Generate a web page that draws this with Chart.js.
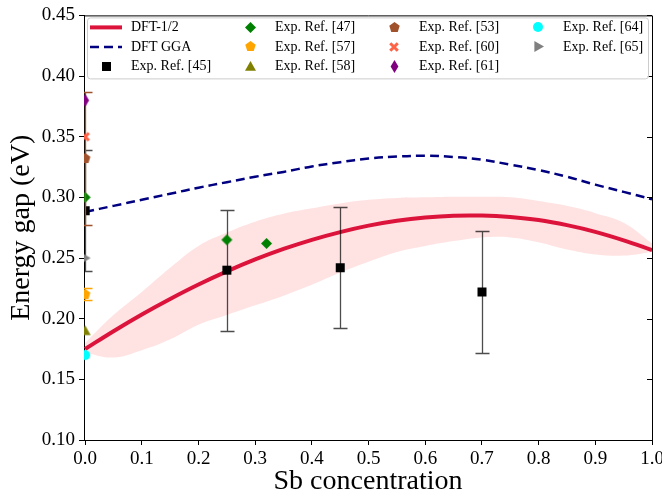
<!DOCTYPE html>
<html>
<head>
<meta charset="utf-8">
<script src="https://cdn.jsdelivr.net/npm/chart.js@4"></script>
<style>
  html, body { margin: 0; padding: 0; background: #fff; }
</style>
</head>
<body>
<canvas id="gapChart" width="662" height="498"></canvas>
<script>
// Sb concentration grid used by the computed curves
const sbGrid = [0, 0.05, 0.1, 0.15, 0.2, 0.25, 0.3, 0.35, 0.4, 0.45, 0.5,
                0.55, 0.6, 0.65, 0.7, 0.75, 0.8, 0.85, 0.9, 0.95, 1.0];
const dftHalf = [0.175, 0.1897, 0.2035, 0.2163, 0.2282, 0.2390, 0.2488, 0.2575, 0.2650, 0.2714, 0.2767,
                 0.2807, 0.2834, 0.2849, 0.2850, 0.2838, 0.2813, 0.2771, 0.2716, 0.2646, 0.2565];
const dftGGA = [0.2880, 0.2930, 0.2980, 0.3030, 0.3080, 0.3125, 0.3170, 0.3210, 0.3255, 0.3290, 0.3320,
                0.3337, 0.3343, 0.3333, 0.3310, 0.3270, 0.3225, 0.3170, 0.3105, 0.3045, 0.2985];
const bandLow = [0.172, 0.168, 0.174, 0.183, 0.195, 0.203, 0.211, 0.219, 0.228, 0.238, 0.247,
                 0.255, 0.260, 0.264, 0.267, 0.267, 0.263, 0.257, 0.253, 0.252, 0.255];
const bandHigh = [0.180, 0.203, 0.222, 0.242, 0.260, 0.271, 0.280, 0.2865, 0.291, 0.295, 0.298,
                  0.2995, 0.300, 0.3005, 0.3005, 0.300, 0.297, 0.293, 0.287, 0.279, 0.262];

// experimental references
const ref45X = [0, 0.25, 0.45, 0.7];
const ref45Y = [0.289, 0.240, 0.242, 0.222];
const ref45Err = [0.05, 0.05, 0.05, 0.05];
const ref47X = [0, 0.25, 0.32];
const ref47Y = [0.300, 0.265, 0.262];
const ref57Y = [0.220];
const ref57Err = [0.005];
const ref58Y = [0.190];
const ref53Y = [0.332];
const ref53Err = [0.055];
const ref60Y = [0.350];
const ref61Y = [0.380];
const ref64Y = [0.170];
const ref65Y = [0.250];

const serif = "'Liberation Serif', 'Times New Roman', serif";
Chart.defaults.font.family = serif;
Chart.defaults.color = '#000';

function pts(xs, ys) {
    return ys.map((y, i) => ({ x: xs[i], y: y }));
}
function atZero(ys) {
    return ys.map(y => ({ x: 0, y: y }));
}

// little canvases used as point styles
function makeMarker(shape, color, size) {
    const s = Math.ceil(size) + 2;
    const c = document.createElement('canvas');
    c.width = s; c.height = s;
    const g = c.getContext('2d');
    const r = size / 2;
    g.translate(s / 2, s / 2);
    g.fillStyle = color;
    g.strokeStyle = color;
    g.beginPath();
    if (shape === 'square') {
        g.rect(-r, -r, size, size);
    } else if (shape === 'diamond') {
        g.moveTo(0, -r); g.lineTo(r, 0); g.lineTo(0, r); g.lineTo(-r, 0);
    } else if (shape === 'thinDiamond') {
        g.moveTo(0, -r); g.lineTo(r * 0.6, 0); g.lineTo(0, r); g.lineTo(-r * 0.6, 0);
    } else if (shape === 'pentagon') {
        for (let i = 0; i < 5; i++) {
            const a = -Math.PI / 2 + i * 2 * Math.PI / 5;
            g.lineTo(r * Math.cos(a), r * Math.sin(a));
        }
    } else if (shape === 'triUp') {
        g.moveTo(0, -r); g.lineTo(r, r * 0.75); g.lineTo(-r, r * 0.75);
    } else if (shape === 'triRight') {
        g.moveTo(r, 0); g.lineTo(-r * 0.75, r); g.lineTo(-r * 0.75, -r);
    } else if (shape === 'circle') {
        g.arc(0, 0, r, 0, Math.PI * 2);
    } else if (shape === 'x') {
        g.lineWidth = size * 0.3;
        const d = r * 0.75;
        g.moveTo(-d, -d); g.lineTo(d, d);
        g.moveTo(d, -d); g.lineTo(-d, d);
        g.stroke();
        return c;
    }
    g.closePath();
    g.fill();
    return c;
}

const mk = {
    r45: makeMarker('square', '#000000', 9),
    r47: makeMarker('diamond', '#008000', 11),
    r57: makeMarker('pentagon', '#ffa500', 11),
    r58: makeMarker('triUp', '#808000', 11),
    r53: makeMarker('pentagon', '#a0522d', 11),
    r60: makeMarker('x', '#ff6347', 10),
    r61: makeMarker('thinDiamond', '#800080', 13),
    r64: makeMarker('circle', '#00ffff', 10),
    r65: makeMarker('triRight', '#808080', 11)
};

function expSet(label, data, marker, order, extra) {
    return Object.assign({
        label: label,
        data: data,
        showLine: false,
        pointStyle: marker,
        pointRadius: 5,
        clip: 0,
        order: order,
        inLegend: true
    }, extra || {});
}

const datasets = [
    {
        label: 'DFT-1/2',
        data: pts(sbGrid, dftHalf),
        showLine: true,
        borderColor: '#dc143c',
        borderWidth: 4,
        pointRadius: 0,
        tension: 0.4,
        clip: 0,
        order: 20,
        inLegend: true
    },
    {
        label: 'DFT GGA',
        data: pts(sbGrid, dftGGA),
        showLine: true,
        borderColor: '#000080',
        borderWidth: 2.5,
        borderDash: [9, 5],
        pointRadius: 0,
        tension: 0.4,
        clip: 0,
        order: 19,
        inLegend: true
    },
    expSet('Exp. Ref. [45]', pts(ref45X, ref45Y), mk.r45, 18, { errors: ref45Err, errorColor: 'rgba(0,0,0,0.7)' }),
    expSet('Exp. Ref. [47]', pts(ref47X, ref47Y), mk.r47, 17),
    expSet('Exp. Ref. [57]', atZero(ref57Y), mk.r57, 16, { errors: ref57Err, errorColor: '#ffa500' }),
    expSet('Exp. Ref. [58]', atZero(ref58Y), mk.r58, 15),
    expSet('Exp. Ref. [53]', atZero(ref53Y), mk.r53, 14, { errors: ref53Err, errorColor: '#a0522d' }),
    expSet('Exp. Ref. [60]', atZero(ref60Y), mk.r60, 13),
    expSet('Exp. Ref. [61]', atZero(ref61Y), mk.r61, 12),
    expSet('Exp. Ref. [64]', atZero(ref64Y), mk.r64, 11),
    expSet('Exp. Ref. [65]', atZero(ref65Y), mk.r65, 10),
    // shaded band around DFT-1/2
    {
        label: 'band low',
        data: pts(sbGrid, bandLow),
        showLine: true,
        borderWidth: 0,
        pointRadius: 0,
        tension: 0.4,
        clip: 0,
        order: 30
    },
    {
        label: 'band high',
        data: pts(sbGrid, bandHigh),
        showLine: true,
        borderWidth: 0,
        pointRadius: 0,
        tension: 0.4,
        fill: '-1',
        backgroundColor: 'rgba(255, 160, 160, 0.3)',
        clip: 0,
        order: 30
    }
];

// vertical error bars, drawn just under their own markers
const errorBars = {
    id: 'errorBars',
    beforeDatasetDraw(chart, args) {
        const ds = chart.data.datasets[args.index];
        if (!ds.errors) return;
        const { ctx, chartArea: a, scales: { x, y } } = chart;
        ctx.save();
        ctx.beginPath();
        ctx.rect(a.left, a.top, a.right - a.left, a.bottom - a.top);
        ctx.clip();
        ctx.strokeStyle = ds.errorColor;
        ctx.lineWidth = 1.3;
        ds.data.forEach((p, i) => {
            const e = ds.errors[i];
            const px = Math.round(x.getPixelForValue(p.x)) + 0.5;
            const top = Math.round(y.getPixelForValue(p.y + e)) + 0.5;
            const bot = Math.round(y.getPixelForValue(p.y - e)) + 0.5;
            ctx.beginPath();
            ctx.moveTo(px, top); ctx.lineTo(px, bot);
            ctx.moveTo(px - 7, top); ctx.lineTo(px + 7, top);
            ctx.moveTo(px - 7, bot); ctx.lineTo(px + 7, bot);
            ctx.stroke();
        });
        ctx.restore();
    }
};

// top/right spines and the inward right ticks
const frame = {
    id: 'frame',
    afterDatasetsDraw(chart) {
        const { ctx, chartArea: a, scales: { y } } = chart;
        ctx.save();
        ctx.strokeStyle = '#000';
        ctx.lineWidth = 1;
        ctx.beginPath();
        ctx.moveTo(a.left, a.top + 0.5); ctx.lineTo(a.right + 0.5, a.top + 0.5);
        ctx.lineTo(a.right + 0.5, a.bottom);
        y.ticks.forEach(t => {
            const py = Math.round(y.getPixelForValue(t.value)) + 0.5;
            ctx.moveTo(a.right, py); ctx.lineTo(a.right - 5, py);
        });
        ctx.stroke();
        ctx.restore();
    }
};

// matplotlib-like legend: 4 columns, 3 rows, column-major
const gridLegend = {
    id: 'gridLegend',
    afterDraw(chart) {
        const { ctx, chartArea: a } = chart;
        const items = chart.data.datasets.filter(d => d.inLegend);
        const bx = a.left + 3, by = a.top + 2, bw = a.right - a.left - 7, bh = 61;
        ctx.save();
        ctx.fillStyle = 'rgba(255,255,255,0.85)';
        ctx.strokeStyle = '#cccccc';
        ctx.lineWidth = 1;
        ctx.beginPath();
        ctx.roundRect(bx + 0.5, by + 0.5, bw, bh, 3);
        ctx.fill();
        ctx.stroke();
        ctx.font = '14px ' + serif;
        ctx.textBaseline = 'middle';
        ctx.fillStyle = '#000';
        items.forEach((d, i) => {
            const col = Math.floor(i / 3), row = i % 3;
            const mx = a.left + 22 + col * 144;
            const my = by + 10 + row * 19.5;
            if (d.showLine) {
                ctx.save();
                ctx.strokeStyle = d.borderColor;
                ctx.lineWidth = d.borderWidth;
                ctx.setLineDash(d.borderDash || []);
                ctx.beginPath();
                ctx.moveTo(mx - 16, my); ctx.lineTo(mx + 16, my);
                ctx.stroke();
                ctx.restore();
            } else {
                const m = d.pointStyle;
                ctx.drawImage(m, Math.round(mx - m.width / 2), Math.round(my - m.height / 2));
            }
            ctx.fillText(d.label, mx + 25, my);
        });
        ctx.restore();
    }
};

new Chart(document.getElementById('gapChart').getContext('2d'), {
    type: 'scatter',
    data: { datasets: datasets },
    options: {
        responsive: false,
        animation: false,
        events: [],
        layout: { padding: { top: 13, right: 10, left: 0, bottom: 0 } },
        plugins: {
            legend: { display: false },
            tooltip: { enabled: false }
        },
        scales: {
            x: {
                type: 'linear',
                min: -0.002,
                max: 1.0,
                ticks: {
                    stepSize: 0.1,
                    includeBounds: false,
                    padding: 3,
                    font: { size: 19 },
                    callback: v => v.toFixed(1)
                },
                grid: { drawOnChartArea: false, tickLength: 5, tickColor: '#000' },
                border: { color: '#000', width: 1 },
                title: {
                    display: true,
                    text: 'Sb concentration',
                    font: { size: 28 },
                    padding: { top: 0, bottom: 0 }
                },
                afterFit(s) {
                    s.height = 58;
                    s.paddingRight = 0;
                    s.paddingLeft = 0;
                }
            },
            y: {
                type: 'linear',
                min: 0.10,
                max: 0.45,
                ticks: {
                    stepSize: 0.05,
                    padding: 4,
                    font: { size: 19 },
                    callback: v => v.toFixed(2)
                },
                grid: { drawOnChartArea: false, tickLength: 5, tickColor: '#000' },
                border: { color: '#000', width: 1 },
                title: {
                    display: true,
                    text: 'Energy gap (eV)',
                    font: { size: 28 },
                    padding: { top: 5, bottom: 0 }
                },
                afterFit(s) { s.width = 84; }
            }
        }
    },
    plugins: [errorBars, frame, gridLegend]
});
</script>
</body>
</html>
